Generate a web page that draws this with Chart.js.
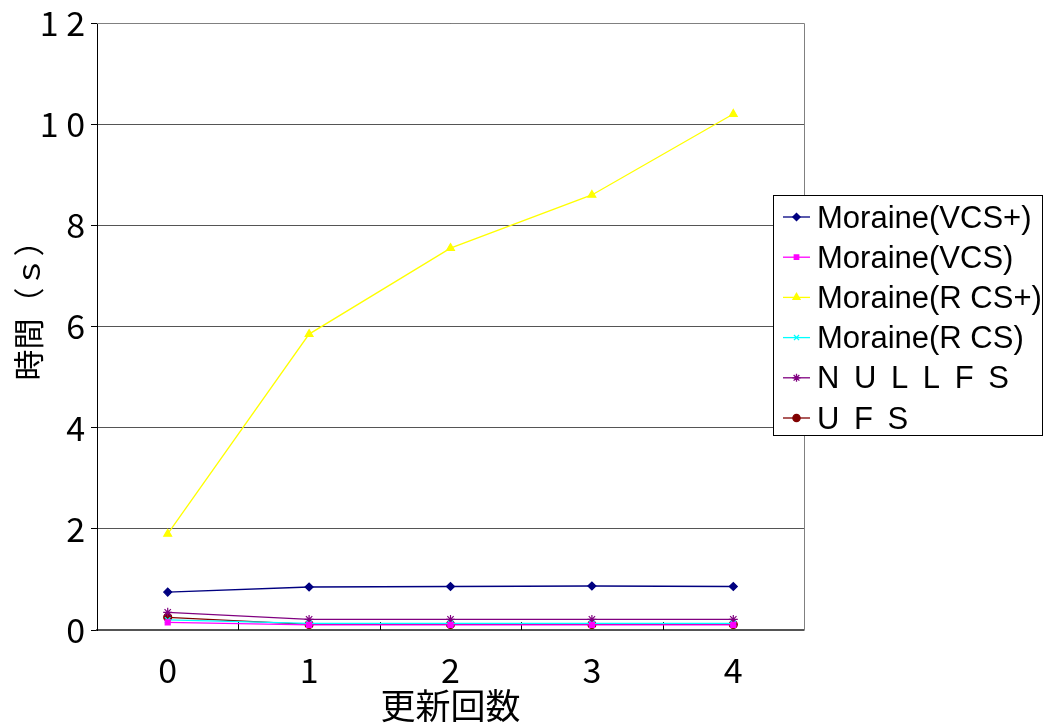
<!DOCTYPE html>
<html>
<head>
<meta charset="utf-8">
<script src="https://cdn.jsdelivr.net/npm/chart.js@4.4.1/dist/chart.umd.min.js"></script>
<style>
  html, body { margin: 0; padding: 0; background: #ffffff; }
  #wrap { position: relative; width: 1047px; height: 727px; }
</style>
</head>
<body>
<div id="wrap"><canvas id="c" width="1047" height="727"></canvas></div>
<script>
// Update count on the x axis
const updates = ['0', '1', '2', '3', '4'];
// Y axis tick labels, 0..12 in steps of 2
const yTickLabels = ['0', '2', '4', '6', '8', '1 0', '1 2'];
const yTitle = '時間（ｓ）';
const xTitle = '更新回数';

// Time in seconds for each method
const moraineVcsPlus = [0.75, 0.85, 0.86, 0.87, 0.86];
const moraineVcs     = [0.15, 0.10, 0.10, 0.10, 0.10];
const moraineRcsPlus = [1.90, 5.85, 7.55, 8.60, 10.20];
const moraineRcs     = [0.20, 0.13, 0.13, 0.13, 0.13];
const nullfs         = [0.35, 0.21, 0.21, 0.21, 0.21];
const ufs            = [0.25, 0.11, 0.11, 0.11, 0.11];

const seriesNames = ['Moraine(VCS+)', 'Moraine(VCS)', 'Moraine(R CS+)', 'Moraine(R CS)', 'N U L L F S', 'U F S'];

const JP = '"Noto Sans CJK JP", sans-serif';
const LAT = '"Liberation Sans", Arial, sans-serif';

function ds(label, data, color, style, radius) {
  return {
    label, data,
    borderColor: color, backgroundColor: color,
    pointBackgroundColor: color, pointBorderColor: color,
    pointStyle: style, pointRadius: radius, pointBorderWidth: 1.2,
    borderWidth: 1.3, tension: 0, fill: false
  };
}

const datasets = [
  ds(seriesNames[0], moraineVcsPlus, '#000080', 'rectRot', 4),
  ds(seriesNames[1], moraineVcs,     '#ff00ff', 'rect', 3.5),
  ds(seriesNames[2], moraineRcsPlus, '#ffff00', 'triangle', 4.5),
  ds(seriesNames[3], moraineRcs,     '#00ffff', 'crossRot', 4),
  ds(seriesNames[4], nullfs,         '#800080', 'star', 4.5),
  ds(seriesNames[5], ufs,            '#800000', 'circle', 4)
];

// Frame on the top/right edges plus short inward ticks between categories
const framePlugin = {
  id: 'frame',
  beforeDatasetsDraw(chart) {
    const { ctx, chartArea: a, scales } = chart;
    ctx.save();
    ctx.strokeStyle = '#808080';
    ctx.lineWidth = 1;
    ctx.beginPath();
    ctx.moveTo(a.left, a.top + 0.5);
    ctx.lineTo(a.right + 0.5, a.top + 0.5);
    ctx.lineTo(a.right + 0.5, a.bottom);
    ctx.stroke();
    const xs = scales.x;
    ctx.strokeStyle = '#000000';
    ctx.beginPath();
    for (let i = 0; i < updates.length - 1; i++) {
      const px = Math.round((xs.getPixelForValue(i) + xs.getPixelForValue(i + 1)) / 2) + 0.5;
      ctx.moveTo(px, a.bottom);
      ctx.lineTo(px, a.bottom - 8);
    }
    ctx.stroke();
    ctx.restore();
  },
  afterDraw(chart) {
    // vertical axis title, reading bottom to top
    const { ctx } = chart;
    ctx.save();
    ctx.translate(28, 303);
    ctx.rotate(-Math.PI / 2);
    ctx.font = '31px ' + JP;
    ctx.fillStyle = '#000000';
    ctx.textAlign = 'center';
    ctx.textBaseline = 'middle';
    ctx.fillText(yTitle, 0, 0);
    ctx.restore();
  }
};

// Boxed legend on the right, partly over the plot frame
const legendPlugin = {
  id: 'boxLegend',
  afterDraw(chart) {
    const { ctx } = chart;
    const box = { x: 773.5, y: 195.5, w: 269, h: 240 };
    ctx.save();
    ctx.fillStyle = '#ffffff';
    ctx.fillRect(box.x, box.y, box.w, box.h);
    ctx.strokeStyle = '#000000';
    ctx.lineWidth = 1;
    ctx.strokeRect(box.x, box.y, box.w, box.h);
    ctx.font = '31px ' + LAT;
    ctx.textBaseline = 'middle';
    chart.data.datasets.forEach((d, i) => {
      const cy = 217 + i * 40.2;
      ctx.strokeStyle = d.borderColor;
      ctx.lineWidth = 1.3;
      ctx.beginPath();
      ctx.moveTo(783, cy);
      ctx.lineTo(810, cy);
      ctx.stroke();
      ctx.fillStyle = d.borderColor;
      ctx.strokeStyle = d.borderColor;
      Chart.helpers.drawPoint(ctx, { pointStyle: d.pointStyle, radius: d.pointRadius * 0.9, rotation: 0, borderWidth: 1.2 }, 796.5, cy);
      ctx.fillStyle = '#000000';
      // spaced-out acronyms get a little extra tracking
      ctx.letterSpacing = d.label.startsWith('Moraine') ? '0px' : '3px';
      ctx.fillText(d.label, 817, cy + 2);
      ctx.letterSpacing = '0px';
    });
    ctx.restore();
  }
};

new Chart(document.getElementById('c'), {
  type: 'line',
  data: { labels: updates, datasets },
  options: {
    responsive: false,
    animation: false,
    layout: { padding: { top: 23, right: 243, left: 0, bottom: 0 } },
    plugins: { legend: { display: false }, tooltip: { enabled: false } },
    scales: {
      x: {
        type: 'category',
        offset: true,
        grid: { display: false, drawTicks: false },
        border: { display: true, color: '#555555', width: 1.5 },
        ticks: { color: '#000000', font: { family: JP, size: 34 }, padding: 20, maxRotation: 0 },
        title: { display: true, text: xTitle, color: '#000000', font: { family: JP, size: 35 }, padding: { top: -10, bottom: 0 } },
        afterFit(s) { s.height = 97; }
      },
      y: {
        min: 0, max: 12,
        grid: { color: '#555555', lineWidth: 1, tickLength: 6, drawOnChartArea: true, tickColor: '#000000' },
        border: { display: true, color: '#000000', width: 1 },
        ticks: {
          stepSize: 2, color: '#000000', padding: 6,
          font: { family: JP, size: 34, lineHeight: 1 },
          callback: (v) => yTickLabels[v / 2]
        },
        title: { display: false },
        afterFit(s) { s.width = 97; }
      }
    }
  },
  plugins: [framePlugin, legendPlugin]
});
</script>
</body>
</html>
